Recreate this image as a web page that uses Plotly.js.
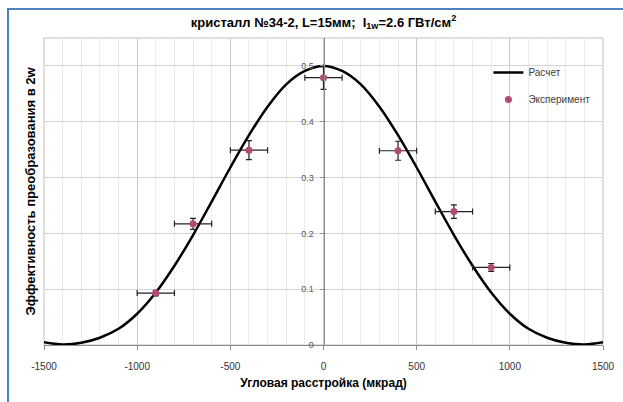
<!DOCTYPE html>
<html>
<head>
<meta charset="utf-8">
<script src="https://cdn.plot.ly/plotly-3.0.1.min.js"></script>
<style>
  html, body { margin: 0; padding: 0; background: #fff; overflow: hidden; }
  #chart { width: 623px; height: 402px; position: relative; }
  #frame { position: absolute; left: 7px; top: 8px; width: 700px; height: 500px;
           border: 2px solid #4f81bd; pointer-events: none; z-index: 10; }
</style>
</head>
<body>
<div id="frame"></div>
<div id="chart"></div>
<script>
// Calculated curve ("Расчет")
const calcX = [-1500,-1400,-1300,-1200,-1100,-1000,-900,-800,-700,-600,-500,-400,-300,-200,-100,
               0,100,200,300,400,500,600,700,800,900,1000,1100,1200,1300,1400,1500];
const calcY = [0.005,0.001,0.004,0.013,0.029,0.056,0.094,0.142,0.197,0.257,0.318,0.376,0.427,0.467,0.491,
               0.500,0.491,0.467,0.427,0.376,0.318,0.257,0.197,0.142,0.094,0.056,0.029,0.013,0.004,0.001,0.005];

// Experiment ("Эксперимент")
const expX = [-900,-700,-400,0,400,700,900];
const expY = [0.093,0.217,0.349,0.479,0.348,0.239,0.139];
const expXErr = [100,100,100,100,100,100,100];
const expYErr = [0.005,0.010,0.017,0.021,0.017,0.012,0.007];

// Axis ticks
const xTicks = [-1500,-1000,-500,0,500,1000,1500];
const yTicks = [0,0.1,0.2,0.3,0.4,0.5];
const yTickText = ['0','0.1','0.2','0.3','0.4','0.5'];

const FONT = 'Liberation Sans, Arial, sans-serif';

const traces = [
  {
    x: calcX, y: calcY, type: 'scatter', mode: 'lines', name: 'Расчет',
    line: {color: '#000000', width: 2.5, shape: 'spline', smoothing: 1},
    legendgroup: 'a'
  },
  {
    x: expX, y: expY, type: 'scatter', mode: 'markers', name: 'Эксперимент',
    marker: {color: '#b04a70', size: 7, symbol: 'circle'},
    error_x: {type: 'data', array: expXErr, visible: true, color: '#222', thickness: 1.2, width: 3},
    error_y: {type: 'data', array: expYErr, visible: true, color: '#222', thickness: 1.2, width: 3},
    legendgroup: 'b'
  }
];

const layout = {
  width: 623, height: 402,
  margin: {l: 44, r: 20, t: 38, b: 57},
  paper_bgcolor: '#ffffff',
  plot_bgcolor: '#ffffff',
  font: {family: FONT, color: '#595959', size: 10},
  title: {
    text: 'кристалл №34-2, L=15мм;  I<sub>1w</sub>=2.6 ГВт/см<sup>2</sup>',
    font: {family: FONT, size: 13, color: '#000', weight: 'bold'},
    x: 0.5, xref: 'paper', xanchor: 'center', y: 0.945, yref: 'container', yanchor: 'middle'
  },
  xaxis: {
    range: [-1500, 1500], tickvals: xTicks, ticktext: xTicks.map(String),
    showgrid: true, gridcolor: '#c8c8c8', gridwidth: 1,
    minor: {dtick: 100, showgrid: true, gridcolor: '#ebebeb', gridwidth: 1},
    zeroline: false, showline: true, linecolor: '#8c8c8c', linewidth: 1,
    ticks: 'outside', ticklen: 4, tickcolor: '#8c8c8c', ticklabelstandoff: 8,
    tickfont: {family: FONT, size: 10, color: '#333'},
    title: {text: 'Угловая расстройка (мкрад)', font: {family: FONT, size: 12, color: '#000', weight: 'bold'}, standoff: 7},
    fixedrange: true
  },
  yaxis: {
    range: [0, 0.55], tickvals: yTicks, ticktext: yTickText,
    anchor: 'free', position: 0.5,
    showgrid: true, gridcolor: '#d4d4d4', gridwidth: 1,
    zeroline: false, showline: true, linecolor: '#8c8c8c', linewidth: 1,
    ticks: 'outside', ticklen: 4, tickcolor: '#8c8c8c', ticklabelstandoff: 4,
    tickfont: {family: FONT, size: 9, color: '#595959'},
    fixedrange: true
  },
  shapes: [
    {type: 'rect', xref: 'paper', yref: 'paper', x0: 0, x1: 1, y0: 0, y1: 1,
     line: {color: '#bfbfbf', width: 1}, layer: 'below'}
  ],
  annotations: [
    {text: 'Эффективность преобразования в 2w', xref: 'paper', yref: 'paper',
     x: -0.025, y: 0.5, xanchor: 'center', yanchor: 'middle', textangle: -90, showarrow: false,
     font: {family: FONT, size: 13, color: '#000', weight: 'bold'}}
  ],
  showlegend: true,
  legend: {
    x: 0.795, y: 0.935, xanchor: 'left', yanchor: 'top',
    bgcolor: 'rgba(0,0,0,0)', borderwidth: 0,
    font: {family: FONT, size: 10, color: '#404040'},
    traceorder: 'grouped', tracegroupgap: 8, itemwidth: 30
  }
};

Plotly.newPlot('chart', traces, layout, {displayModeBar: false, staticPlot: true});
</script>
</body>
</html>
